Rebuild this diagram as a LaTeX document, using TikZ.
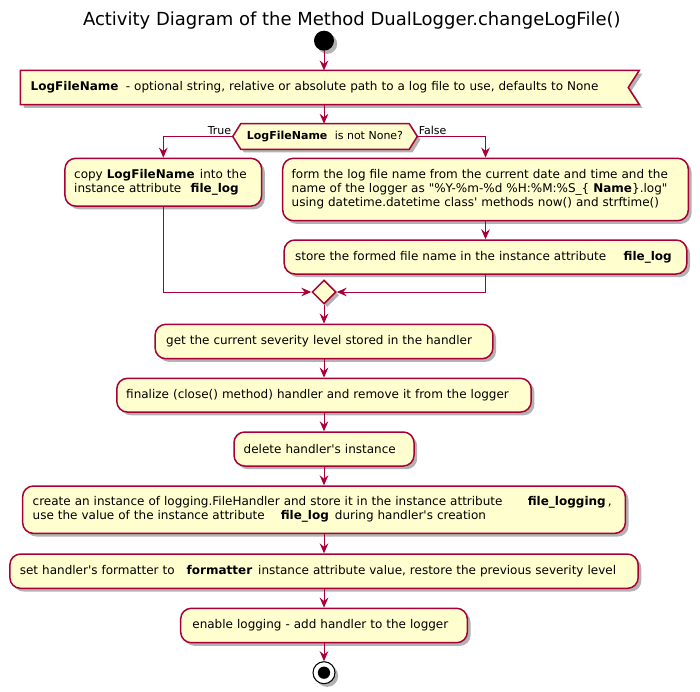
\documentclass[tikz,border=0pt]{standalone}
\usepackage{fontspec}
\setmainfont{DejaVu Sans}
\usetikzlibrary{arrows.meta,shapes.geometric,shadows,backgrounds,calc}
\definecolor{plred}{HTML}{A80036}
\definecolor{plfill}{HTML}{FEFECE}
\newcommand{\qs}{\textquotesingle}
\newcommand{\qd}{\textquotedbl}
\begin{document}
\begin{tikzpicture}[x=0.75pt,y=-0.75pt,
  txt/.style={font=\fontsize{9pt}{10.5pt}\selectfont},
  shad/.style={drop shadow={shadow xshift=2.4pt,shadow yshift=-2.4pt,opacity=0.3,fill=black}},
  act/.style={draw=plred, line width=1.125pt, fill=plfill, rounded corners=8pt,
    align=left, inner ysep=0pt, txt, shad},
  flow/.style={draw=plred, line width=0.75pt, -{Stealth[length=7.5pt,width=6.5pt,inset=2.6pt]}},
  lab/.style={font=\fontsize{8.25pt}{10pt}\selectfont, inner sep=0.8pt, yshift=1.8pt},
]
\useasboundingbox (0,0) rectangle (700,692);

% title
\node[font=\fontsize{13.5pt}{16pt}\selectfont] (title) at (351.8,20.7)
  {Activity Diagram of the Method DualLogger.changeLogFile()};

% start
\node[circle, fill=black, minimum size=15pt, inner sep=0pt, shad] (start) at (324,40.7) {};

% input parameter (signal receive shape)
\node[txt, align=left, text width=448.7pt, inner xsep=7.5pt, inner ysep=0pt,
  minimum height=25.2pt] (inp) at (329.85,87.5)
  {\textbf{LogFileName}\hspace{5.5pt}- optional string, relative or absolute path to a log file to use, defaults to None};

% decision
\node[font=\fontsize{8.25pt}{10pt}\selectfont, minimum width=138pt, minimum height=18.75pt,
  inner sep=0pt] (dec) at (325,136.5)
  {\textbf{LogFileName}\hspace{5.5pt}is not None?};

\begin{scope}[on background layer]
  \begin{scope}[transform canvas={xshift=2.4pt,yshift=-2.4pt}]
    \fill[black,opacity=0.3] (inp.north west) -- (inp.north east) -- ($(inp.east)+(-11,0)$)
      -- (inp.south east) -- (inp.south west) -- cycle;
    \fill[black,opacity=0.3] (dec.west) -- ($(dec.north west)+(8,0)$) -- ($(dec.north east)+(-8,0)$)
      -- (dec.east) -- ($(dec.south east)+(-8,0)$) -- ($(dec.south west)+(8,0)$) -- cycle;
  \end{scope}
  \filldraw[fill=plfill, draw=plred, line width=1.125pt] (inp.north west) -- (inp.north east)
    -- ($(inp.east)+(-11,0)$) -- (inp.south east) -- (inp.south west) -- cycle;
  \filldraw[fill=plfill, draw=plred, line width=1.125pt] (dec.west) -- ($(dec.north west)+(8,0)$)
    -- ($(dec.north east)+(-8,0)$) -- (dec.east) -- ($(dec.south east)+(-8,0)$)
    -- ($(dec.south west)+(8,0)$) -- cycle;
\end{scope}

% branches
\node[act, text width=133.7pt, inner xsep=6.9pt, minimum height=35.8pt] (lbox) at (163.3,182.2)
  {copy \textbf{LogFileName}\hspace{4pt}into the\\instance attribute\hspace{7pt}\textbf{file\_log}};
\node[act, text width=290.7pt, inner xsep=6.75pt, minimum height=46.8pt] (rbox) at (485.5,189.5)
  {form the log file name from the current date and time and the\\
   name of the logger as \qd\%Y-\%m-\%d \%H:\%M:\%S\_\{\hspace{3pt}\textbf{Name}\}.log\qd\\
   using datetime.datetime class\qs{} methods now() and strftime()};
\node[act, text width=285.5pt, inner xsep=8.25pt, minimum height=25.5pt] (store) at (485.5,257)
  {store the formed file name in the instance attribute\hspace{13pt}\textbf{file\_log}};

% merge
\node[diamond, aspect=1, draw=plred, fill=plfill, line width=1.125pt, minimum width=18pt,
  minimum height=18pt, inner sep=0pt, shad] (merge) at (324,292) {};

% main sequence
\node[act, text width=236.8pt, inner xsep=8.25pt, minimum height=25.8pt] (get) at (324,341.5)
  {get the current severity level stored in the handler};
\node[act, text width=296.7pt, inner xsep=7.05pt, minimum height=25.3pt] (fin) at (324,395.2)
  {finalize (close() method) handler and remove it from the logger};
\node[act, text width=120.4pt, inner xsep=7.3pt, minimum height=25.5pt] (del) at (324,449)
  {delete handler\qs{}s instance};
\node[act, text width=437pt, inner xsep=7.5pt, minimum height=35.5pt] (create) at (324,509.7)
  {create an instance of logging.FileHandler and store it in the instance attribute\hspace{19pt}\textbf{file\_logging}\hspace{1.5pt},\\
   use the value of the instance attribute\hspace{12pt}\textbf{file\_log}\hspace{4.5pt}during handler\qs{}s creation};
\node[act, text width=456.2pt, inner xsep=7.5pt, minimum height=25.7pt] (set) at (324,571.2)
  {set handler\qs{}s formatter to\hspace{9pt}\textbf{formatter}\hspace{4.5pt}instance attribute value, restore the previous severity level};
\node[act, text width=197.4pt, inner xsep=8.8pt, minimum height=25.8pt] (enable) at (324,625.5)
  {enable logging - add handler to the logger};

% end
\node[circle, draw=black, fill=white, line width=0.8pt, minimum size=16.5pt, inner sep=0pt, shad] (end) at (324,672.7) {};
\fill[black] (end.center) circle (4.6pt);

% connectors
\draw[flow] (start) -- (start |- inp.north);
\draw[flow] (start |- inp.south) -- (start |- dec.north);
\draw[flow] (dec.west) node[lab, anchor=base east] {True} -| (lbox.north);
\draw[flow] (dec.east) node[lab, anchor=base west] {False} -| (rbox.north);
\draw[flow] (rbox.south) -- (store.north);
\draw[flow] (lbox.south) |- (merge.west);
\draw[flow] (store.south) |- (merge.east);
\draw[flow] (merge.south) -- (get.north);
\draw[flow] (get.south) -- (fin.north);
\draw[flow] (fin.south) -- (del.north);
\draw[flow] (del.south) -- (create.north);
\draw[flow] (create.south) -- (set.north);
\draw[flow] (set.south) -- (enable.north);
\draw[flow] (enable.south) -- (end.north);
\end{tikzpicture}
\end{document}
